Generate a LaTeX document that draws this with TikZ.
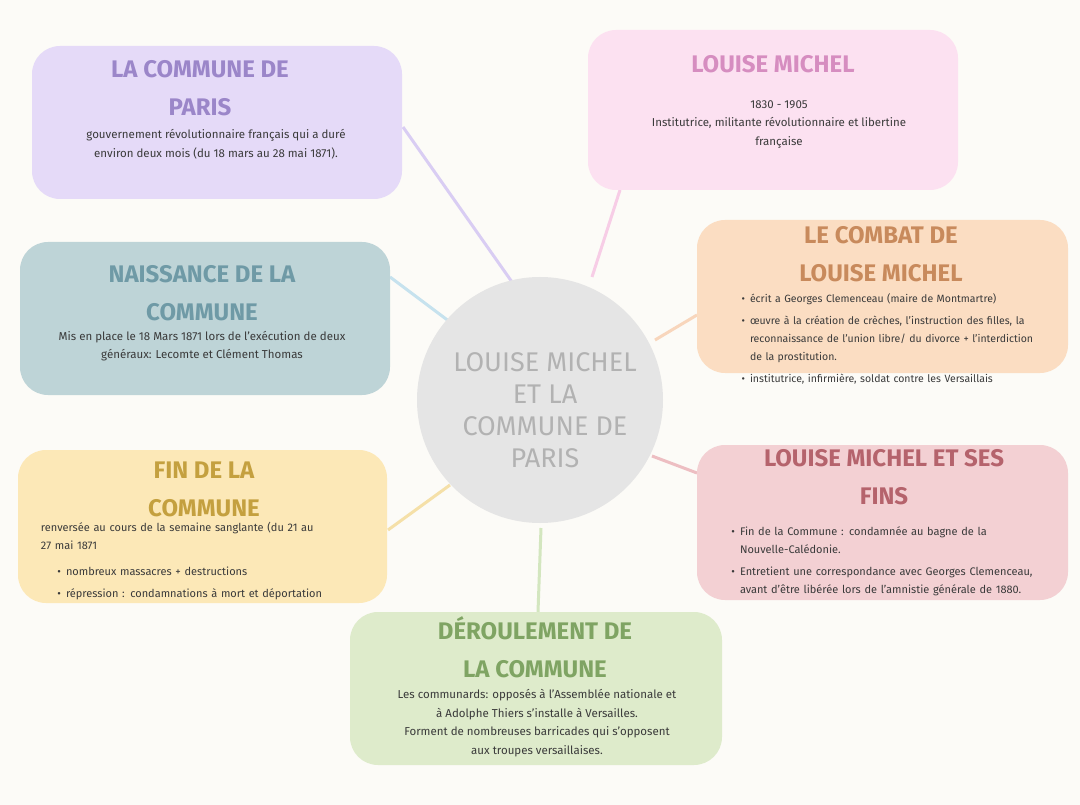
\documentclass[tikz,border=0pt]{standalone}
\usepackage{fontspec}
\setmainfont{Fira Sans}
\definecolor{bg}{HTML}{FCFBF7}
\definecolor{pf}{HTML}{E5DAF8}\definecolor{pt}{HTML}{9B86C9}\definecolor{pl}{HTML}{D9CDF3}
\definecolor{kf}{HTML}{FCE1F1}\definecolor{kt}{HTML}{D68DC0}\definecolor{kl}{HTML}{F7CDE6}
\definecolor{bf}{HTML}{BED4D7}\definecolor{bt}{HTML}{6F9AA6}\definecolor{bl}{HTML}{C6E2EE}
\definecolor{of}{HTML}{FBDDC2}\definecolor{ot}{HTML}{C88A5C}\definecolor{ol}{HTML}{F8D6BC}
\definecolor{yf}{HTML}{FCE8B7}\definecolor{yt}{HTML}{C4A03F}\definecolor{yl}{HTML}{F5E0A8}
\definecolor{rf}{HTML}{F3D0D3}\definecolor{rt}{HTML}{B5636C}\definecolor{rl}{HTML}{EDBEC2}
\definecolor{gf}{HTML}{DEEBCB}\definecolor{gt}{HTML}{7FA463}\definecolor{gl}{HTML}{D3E6BF}
\definecolor{body}{HTML}{3A3A3A}
\begin{document}
\begin{tikzpicture}[x=1pt,y=-1pt,
 blob/.style={rounded corners=28pt,inner sep=0},
 ttl/.style={font=\fontsize{24}{38}\selectfont\bfseries,align=center},
 txt/.style={font=\fontsize{11.5}{18.5}\selectfont,text=body,align=center},
 lst/.style={font=\fontsize{11}{18}\selectfont,text=body,align=left},
 con/.style={line width=3pt}]
\fill[bg] (0,0) rectangle (1080,805);
\useasboundingbox (0,0) rectangle (1080,805);
% connector ends
\coordinate (p1) at (403,127); \coordinate (p2) at (512,282);
\coordinate (k1) at (620,190); \coordinate (k2) at (592,277);
\coordinate (b1) at (390,277); \coordinate (b2) at (450,322);
\coordinate (o1) at (697,315); \coordinate (o2) at (655,340);
\coordinate (y1) at (388,530); \coordinate (y2) at (450,485);
\coordinate (r1) at (697,473); \coordinate (r2) at (652,456);
\coordinate (g1) at (538,612); \coordinate (g2) at (541,528);
\draw[con,pl] (p1)--(p2); \draw[con,kl] (k1)--(k2);
\draw[con,bl] (b1)--(b2); \draw[con,ol] (o1)--(o2);
\draw[con,yl] (y1)--(y2); \draw[con,rl] (r1)--(r2);
\draw[con,gl] (g1)--(g2);
% center
\node[circle,fill=black!10,minimum size=246pt,inner sep=0] (c) at (540,400) {};
\node[font=\fontsize{27}{32}\selectfont,text=black!30,align=center] (ct) at (545,410) {LOUISE MICHEL\\ET LA\\COMMUNE DE\\PARIS};
% boxes
\fill[blob,pf] (32,46) rectangle (402,199); \node (pb) at (217,122) {};
\fill[blob,kf] (588,30) rectangle (958,190); \node (kb) at (773,110) {};
\fill[blob,bf] (20,242) rectangle (390,395); \node (bb) at (205,318) {};
\fill[blob,of] (697,220) rectangle (1068,373); \node (ob) at (882,296) {};
\fill[blob,yf] (18,450) rectangle (387,603); \node (yb) at (202,526) {};
\fill[blob,rf] (697,445) rectangle (1068,600); \node (rb) at (882,522) {};
\fill[blob,gf] (350,612) rectangle (722,765); \node (gb) at (536,688) {};
% texts
\node[ttl,text=pt] (pt1) at (200,88) {LA COMMUNE DE\\PARIS};
\node[txt] (pt2) at (216,144) {gouvernement révolutionnaire français qui a duré\\environ deux mois (du 18 mars au 28 mai 1871).};
\node[ttl,text=kt] (kt1) at (773,64) {LOUISE MICHEL};
\node[txt] (kt2) at (779,124) {1830 - 1905\\Institutrice, militante révolutionnaire et libertine\\française};
\node[ttl,text=bt] (bt1) at (202,293) {NAISSANCE DE LA\\COMMUNE};
\node[txt] (bt2) at (202,346) {Mis en place le 18 Mars 1871  lors de l'exécution de deux\\généraux: Lecomte et Clément Thomas};
\node[ttl,text=ot] (ot1) at (881,254) {LE COMBAT DE\\LOUISE MICHEL};
\node[lst,font=\fontsize{10.5}{18}\selectfont,text width=320pt] (ot2) at (885,330) {\begin{itemize}\setlength\itemsep{0pt}\setlength\parsep{0pt}\setlength\leftmargin{14pt}
\item écrit a Georges Clemenceau  (maire de Montmartre)
\item œuvre à la création de crèches, l'instruction des filles,  la reconnaissance de l'union libre/ du divorce + l'interdiction de la prostitution.
\item institutrice, infirmière, soldat contre les Versaillais\end{itemize}};
\node[ttl,text=yt] (yt1) at (204,489) {FIN DE LA\\COMMUNE};
\node[lst,text width=330pt] (yt2) at (206,561) {renversée au cours de la semaine sanglante (du 21 au\\27 mai 1871
\begin{itemize}\setlength\itemsep{0pt}\setlength\parsep{0pt}\setlength\topsep{0pt}
\item nombreux massacres + destructions
\item répression : condamnations à mort et déportation\end{itemize}};
\node[ttl,text=rt] (rt1) at (884,477) {LOUISE MICHEL ET SES\\FINS};
\node[lst,text width=330pt] (rt2) at (880,553) {\begin{itemize}\setlength\itemsep{0pt}\setlength\parsep{0pt}
\item Fin de la Commune : condamnée au bagne de la Nouvelle-Calédonie.
\item Entretient une correspondance avec Georges Clemenceau, avant d'être libérée lors de l'amnistie générale de 1880.\end{itemize}};
\node[ttl,text=gt] (gt1) at (535,647) {DÉROULEMENT DE\\LA COMMUNE};
\node[txt] (gt2) at (537,723) {Les communards: opposés à l'Assemblée nationale et\\à Adolphe Thiers s'installe à Versailles.\\Forment de nombreuses barricades qui s'opposent\\aux troupes versaillaises.};
\end{tikzpicture}
\end{document}
